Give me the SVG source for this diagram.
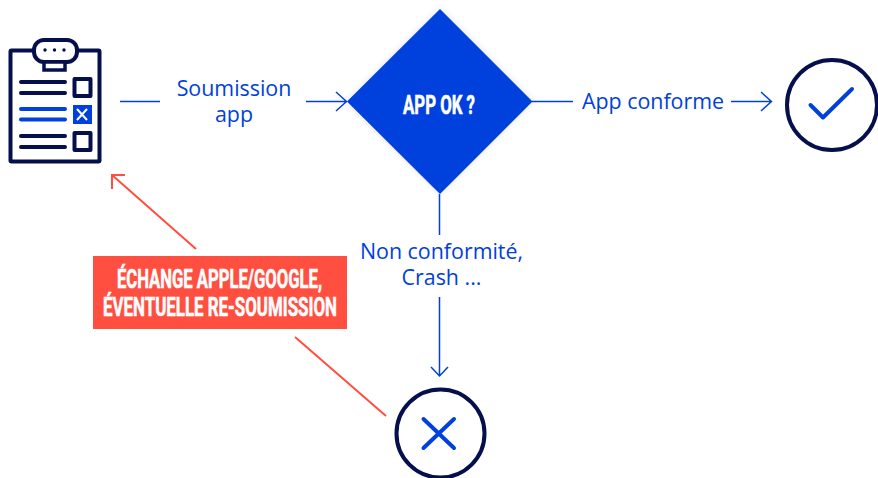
<svg xmlns="http://www.w3.org/2000/svg" width="878" height="478" viewBox="0 0 878 478">
<style>
.lbl{font-family:"Open Sans","Noto Sans",sans-serif;font-size:21.400px;fill:#0040dc;text-anchor:middle}
.cond{font-family:"Roboto","Liberation Sans",sans-serif;font-weight:700;fill:#fff;stroke:#fff;stroke-width:.6}
.navy{fill:none;stroke:#050f4b;stroke-width:4;stroke-linecap:round;stroke-linejoin:round}
.blue{fill:none;stroke:#0040dc;stroke-width:4;stroke-linecap:round;stroke-linejoin:round}
.c{fill:none;stroke:#0040dc;stroke-width:1.500}
.r{fill:none;stroke:#ff4f40;stroke-width:2}
</style>
<defs>
<filter id="sh" x="-20%" y="-20%" width="140%" height="140%"><feDropShadow dx="0" dy="0" stdDeviation="3" flood-color="#000" flood-opacity=".12"/></filter>
</defs>
<g id="connectors">
<path class="c" d="M120 101.500H160M306 101.500H346M336 92l10.500 9.500L336 111"/>
<path class="c" d="M532 101.500H573M731 101.500H771M761 92l10.500 9.500L761 111"/>
<path class="c" d="M439.500 194V235M439.500 297V376M431 367l8.500 9 8.500-9"/>
<path class="r" d="M196 249L112 175M112 189L112 175L125 175"/>
<path class="r" d="M295 337L386 416"/>
</g>
<g id="clipboard">
<rect class="navy" x="10.500" y="50.500" width="89" height="111" rx="1"/>
<rect x="34" y="40" width="43" height="22" rx="10" fill="#fff" stroke="#050f4b" stroke-width="4"/>
<rect x="44" y="62" width="21" height="8" fill="#fff" stroke="#050f4b" stroke-width="3.500"/>
<circle cx="45" cy="50" r="1.700" fill="#050f4b"/><circle cx="54.500" cy="50" r="1.700" fill="#050f4b"/><circle cx="64" cy="50" r="1.700" fill="#050f4b"/>
<path class="navy" stroke-width="3.500" d="M21 82H65M21 93H65M21 136H65M21 147H65"/>
<path class="blue" d="M21 109H65M21 119.500H65"/>
<rect class="navy" x="74.500" y="79" width="16" height="17"/>
<rect x="73" y="105" width="19" height="19" fill="#0040dc"/>
<path d="M77 109l10 11M87 109l-10 11" stroke="#fff" stroke-width="2" fill="none"/>
<rect class="navy" x="74.500" y="133" width="16" height="17"/>
</g>
<g id="decision">
<polygon points="440,9 532.500,101.500 440,194 347,101.500" fill="#0040dc" filter="url(#sh)"/>
<text class="cond" x="403" y="114" font-size="25" textLength="72" lengthAdjust="spacingAndGlyphs">APP OK ?</text>
</g>
<g id="ok">
<circle class="navy" cx="832" cy="105" r="45"/>
<path class="blue" d="M810.500 105L823 117.500L852 89"/>
</g>
<g id="ko">
<circle class="navy" cx="440.500" cy="433.500" r="44"/>
<path class="blue" d="M423.500 419L454 448M454 419L423.500 448"/>
</g>
<g id="note">
<rect x="93" y="256" width="254" height="73" fill="#ff4f40"/>
<text class="cond" x="117" y="288" font-size="26" textLength="205" lengthAdjust="spacingAndGlyphs">ÉCHANGE APPLE/GOOGLE,</text>
<text class="cond" x="103" y="316" font-size="26" textLength="234" lengthAdjust="spacingAndGlyphs">ÉVENTUELLE RE-SOUMISSION</text>
</g>
<g id="labels">
<text class="lbl" x="234" y="96">Soumission</text>
<text class="lbl" x="234" y="122">app</text>
<text class="lbl" x="653" y="109">App conforme</text>
<text class="lbl" x="441.500" y="259">Non conformité,</text>
<text class="lbl" x="441.500" y="285">Crash ...</text>
</g>
</svg>
